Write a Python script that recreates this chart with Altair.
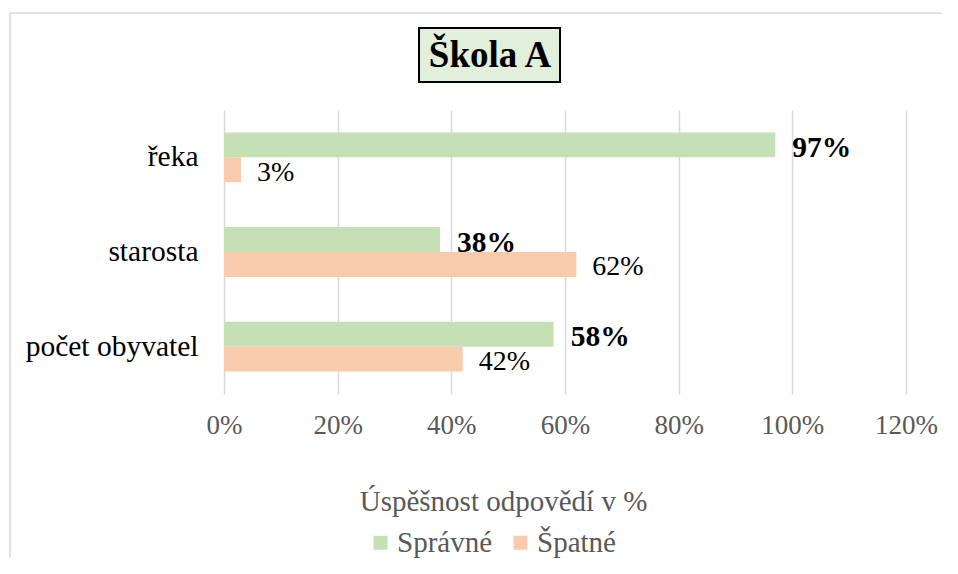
import altair as alt
import pandas as pd

categories = ["řeka", "starosta", "počet obyvatel"]
series = ["Správné", "Špatné"]
spravne = [0.97, 0.38, 0.58]
spatne = [0.03, 0.62, 0.42]
colors = ["#C5E0B4", "#F8CBAD"]
x_ticks = [0, 0.2, 0.4, 0.6, 0.8, 1.0, 1.2]
title_text = "Škola A"
axis_title = "Úspěšnost odpovědí v %"

rows = []
for c, a, b in zip(categories, spravne, spatne):
    rows.append({"kategorie": c, "serie": series[0], "hodnota": a})
    rows.append({"kategorie": c, "serie": series[1], "hodnota": b})
df = pd.DataFrame(rows)

FONT = "Liberation Serif"

y_enc = alt.Y("kategorie:N", sort=categories,
              scale=alt.Scale(paddingInner=0, paddingOuter=0),
              axis=alt.Axis(title=None, labelFontSize=29.5, labelColor="#000000",
                            labelFont=FONT, labelPadding=26, domain=False,
                            ticks=False, grid=False))
yoff_enc = alt.YOffset("serie:N", sort=series,
                       scale=alt.Scale(domain=series, paddingInner=0, paddingOuter=0.9))
x_enc = alt.X("hodnota:Q",
              scale=alt.Scale(domain=[0, 1.2], nice=False, zero=True),
              axis=alt.Axis(values=x_ticks, format=".0%", title=axis_title,
                            labelFontSize=27, labelColor="#595959", labelFont=FONT,
                            labelPadding=18, labelFlush=False, domain=False, ticks=False,
                            grid=True, gridColor="#D9D9D9", gridWidth=1.5,
                            titleFont=FONT, titleFontSize=29, titleColor="#595959",
                            titleFontWeight="normal", titleX=279, titleY=107,
                            titleAlign="center", titleBaseline="middle",
                            titleAnchor="middle"))

base = alt.Chart(df)

bars = base.mark_bar().encode(
    x=x_enc,
    y=y_enc,
    yOffset=yoff_enc,
    color=alt.Color("serie:N", sort=series,
                    scale=alt.Scale(domain=series, range=colors),
                    legend=alt.Legend(title=None, orient="none", legendX=142,
                                      legendY=418, direction="horizontal",
                                      symbolType="square", symbolSize=196,
                                      symbolStrokeWidth=0, labelFontSize=29,
                                      labelColor="#595959", labelFont=FONT,
                                      labelOffset=2, columnPadding=13)),
)

labels_ok = base.transform_filter(alt.datum.serie == series[0]).mark_text(
    align="left", baseline="middle", dx=17, dy=3, font=FONT, fontSize=29.5,
    fontWeight="bold", color="#000000"
).encode(x="hodnota:Q", y=alt.Y("kategorie:N", sort=categories),
         yOffset=alt.YOffset("serie:N", sort=series),
         text=alt.Text("hodnota:Q", format=".0%"))

labels_bad = base.transform_filter(alt.datum.serie == series[1]).mark_text(
    align="left", baseline="middle", dx=16, dy=3, font=FONT, fontSize=28,
    color="#000000"
).encode(x="hodnota:Q", y=alt.Y("kategorie:N", sort=categories),
         yOffset=alt.YOffset("serie:N", sort=series),
         text=alt.Text("hodnota:Q", format=".0%"))

deco = alt.Chart(pd.DataFrame({"t": [title_text]}))

title_box = deco.mark_rect(fill="#E2EFDA", stroke="#000000", strokeWidth=2).encode(
    x=alt.value(195), x2=alt.value(336), y=alt.value(-82), y2=alt.value(-28))
title_lbl = deco.mark_text(font=FONT, fontSize=37, fontWeight="bold",
                           color="#000000", align="center", baseline="middle").encode(
    text="t:N", x=alt.value(266), y=alt.value(-54))

frame = deco.mark_rect(fill=None, fillOpacity=0, stroke="#D9D9D9", strokeWidth=1.5).encode(
    x=alt.value(-214), x2=alt.value(780), y=alt.value(-97), y2=alt.value(520))

chart = alt.layer(frame, bars, labels_ok, labels_bad,
                  title_box, title_lbl).properties(
    width=682, height=284,
    autosize=alt.AutoSizeParams(type="none"),
    padding={"left": 216, "top": 102, "right": 36, "bottom": 164},
).configure_view(stroke=None)

chart.save("out.html", embed_options={"renderer": "svg", "actions": False})
